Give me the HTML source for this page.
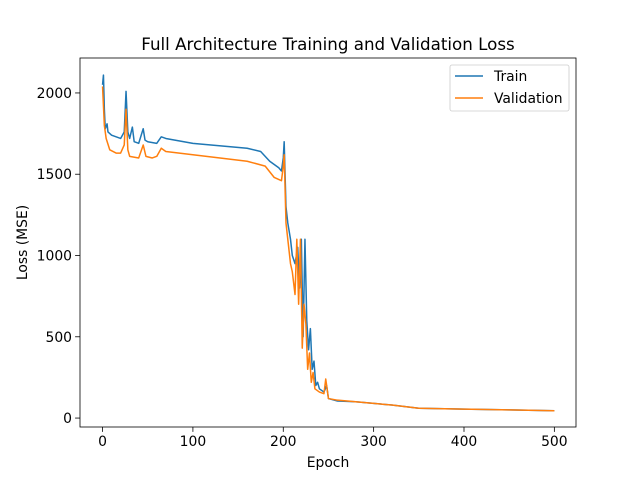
<!DOCTYPE html>
<html><head><meta charset="utf-8"><style>
body{margin:0;background:#fff;font-family:"Liberation Sans","DejaVu Sans",sans-serif}
svg text{font-family:"DejaVu Sans","Liberation Sans",sans-serif;fill:#000}
</style></head><body>
<svg id="chart" width="640" height="480" xmlns="http://www.w3.org/2000/svg"></svg>
<script>
const trainEpochs=[0,1,2,3,5,6,10,20,24,26,28,30,33,35,40,45,47,50,60,65,70,80,100,120,140,160,175,185,195,198,200,201,203,205,208,210,213,216,218,220,222,224,226,228,230,232,234,236,238,240,245,248,250,260,280,300,320,350,400,450,500];
const trainLoss=[2050,2110,1900,1780,1810,1760,1740,1720,1760,2010,1760,1720,1790,1700,1690,1780,1710,1700,1690,1730,1720,1710,1690,1680,1670,1660,1640,1580,1540,1520,1600,1700,1300,1200,1100,1000,950,1050,800,1100,500,1100,600,420,550,300,350,200,220,180,160,200,120,105,100,90,80,60,55,50,45];
const valEpochs=[0,2,4,8,15,20,24,26,28,30,40,45,48,55,60,65,70,100,130,160,180,190,198,200,201,203,205,208,210,213,215,217,219,221,223,225,227,229,231,233,235,240,245,247,250,260,280,300,320,350,400,450,500];
const valLoss=[2040,1800,1720,1650,1630,1630,1680,1900,1650,1610,1600,1680,1610,1600,1610,1660,1640,1620,1600,1580,1550,1480,1460,1550,1620,1200,1100,950,900,760,1100,700,1100,430,700,580,300,400,220,280,180,160,150,240,120,110,100,90,80,60,55,50,45];
const xTicks=[0,100,200,300,400,500];
const yTicks=[0,500,1000,1500,2000];
const L=80,R=576,T=58,B=427;
const xMin=-24.95,xMax=523.95,yMin=-55,yMax=2215;
const X=v=>L+(v-xMin)/(xMax-xMin)*(R-L);
const Y=v=>B-(v-yMin)/(yMax-yMin)*(B-T);
const svg=document.getElementById('chart');
const NS='http://www.w3.org/2000/svg';
function mk(tag,attrs,parent){const e=document.createElementNS(NS,tag);for(const k in attrs)e.setAttribute(k,attrs[k]);(parent||svg).appendChild(e);return e;}
function line(ep,vals,color,name){
  const p=mk('polyline',{points:ep.map((e,i)=>X(e)+','+Y(vals[i])).join(' '),fill:'none',stroke:color,'stroke-width':1.5,'stroke-linejoin':'round'});
  
  
}
line(trainEpochs,trainLoss,'#1f77b4','train-line');
line(valEpochs,valLoss,'#ff7f0e','validation-line');
const frame=mk('rect',{x:L,y:T,width:R-L,height:B-T,fill:'none',stroke:'#000','stroke-width':0.8});


xTicks.forEach(t=>{
  mk('line',{x1:X(t),x2:X(t),y1:B,y2:B+4.9,stroke:'#000','stroke-width':0.8});
  const tx=mk('text',{x:X(t),y:B+19,'text-anchor':'middle','font-size':13.9});tx.textContent=t;
  
  
});
yTicks.forEach(t=>{
  mk('line',{x1:L-4.9,x2:L,y1:Y(t),y2:Y(t),stroke:'#000','stroke-width':0.8});
  const tx=mk('text',{x:L-8,y:Y(t)+5,'text-anchor':'end','font-size':13.9});tx.textContent=t;
  
  
});
let t=mk('text',{x:(L+R)/2,y:467,'text-anchor':'middle','font-size':13.9});t.textContent='Epoch';


t=mk('text',{x:27,y:(T+B)/2,'text-anchor':'middle','font-size':13.9,transform:'rotate(-90 27 '+((T+B)/2)+')'});t.textContent='Loss (MSE)';


t=mk('text',{x:(L+R)/2,y:50,'text-anchor':'middle','font-size':16.7});t.textContent='Full Architecture Training and Validation Loss';


const lg=mk('g',{});


mk('rect',{x:450,y:65,width:119,height:46,rx:2,fill:'#fff',stroke:'#ccc','stroke-width':0.8},lg);
[['Train','#1f77b4',76],['Validation','#ff7f0e',98]].forEach(([n,c,y])=>{
  mk('line',{x1:455,x2:483,y1:y,y2:y,stroke:c,'stroke-width':1.5},lg);
  const e=mk('text',{x:494,y:y+5,'font-size':13.9},lg);e.textContent=n;
  
  
});
</script>
</body></html>
